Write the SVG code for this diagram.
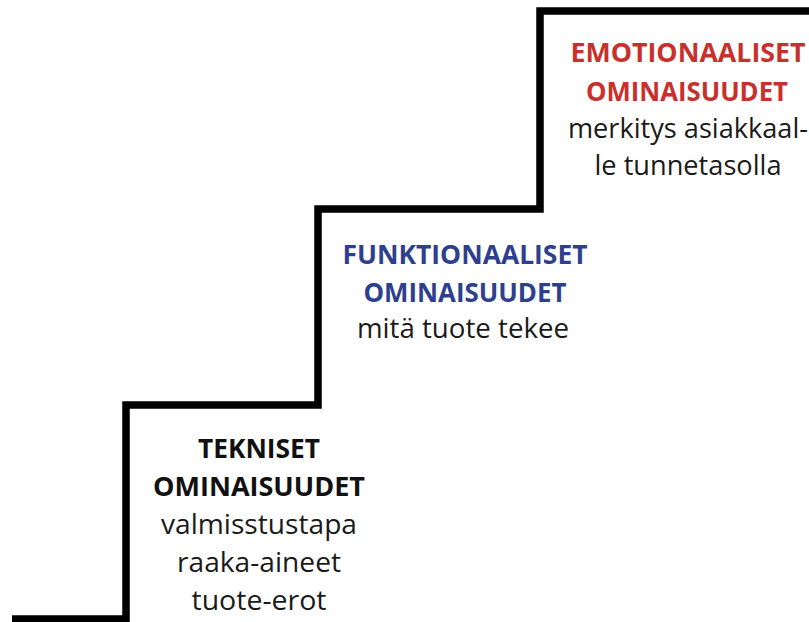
<svg xmlns="http://www.w3.org/2000/svg" width="809" height="622" viewBox="0 0 809 622">
<style>
.t{font-family:"Open Sans","Liberation Sans",sans-serif;text-anchor:middle}
.h{font-weight:bold;font-size:26px}
.b{font-size:26.5px;fill:#1a1a1a}
.red{fill:#c9302c}
.blue{fill:#2f3f8f}
.blk{fill:#111}
</style>
<rect width="809" height="622" fill="#fff"/>
<g id="connectors">
<path d="M12,619 H126 V405 H318 V209 H540 V11 H812" fill="none" stroke="#000" stroke-width="7.5" stroke-linejoin="miter"/>
</g>
<g id="emotionaaliset">
<text class="t h red" x="688" y="62" textLength="235" lengthAdjust="spacingAndGlyphs">EMOTIONAALISET</text>
<text class="t h red" x="687" y="101" textLength="202" lengthAdjust="spacingAndGlyphs">OMINAISUUDET</text>
<text class="t b" x="688" y="138" textLength="240" lengthAdjust="spacingAndGlyphs">merkitys asiakkaal-</text>
<text class="t b" x="688" y="175" textLength="187" lengthAdjust="spacingAndGlyphs">le tunnetasolla</text>
</g>
<g id="funktionaaliset">
<text class="t h blue" x="465" y="264" textLength="245" lengthAdjust="spacingAndGlyphs">FUNKTIONAALISET</text>
<text class="t h blue" x="465" y="302" textLength="203" lengthAdjust="spacingAndGlyphs">OMINAISUUDET</text>
<text class="t b" x="463" y="338" textLength="212" lengthAdjust="spacingAndGlyphs">mitä tuote tekee</text>
</g>
<g id="tekniset">
<text class="t h blk" x="259" y="458" textLength="122" lengthAdjust="spacingAndGlyphs">TEKNISET</text>
<text class="t h blk" x="259" y="496" textLength="212" lengthAdjust="spacingAndGlyphs">OMINAISUUDET</text>
<text class="t b" x="259" y="534" textLength="196" lengthAdjust="spacingAndGlyphs">valmisstustapa</text>
<text class="t b" x="259" y="572" textLength="164" lengthAdjust="spacingAndGlyphs">raaka-aineet</text>
<text class="t b" x="259" y="610" textLength="135" lengthAdjust="spacingAndGlyphs">tuote-erot</text>
</g>
</svg>
